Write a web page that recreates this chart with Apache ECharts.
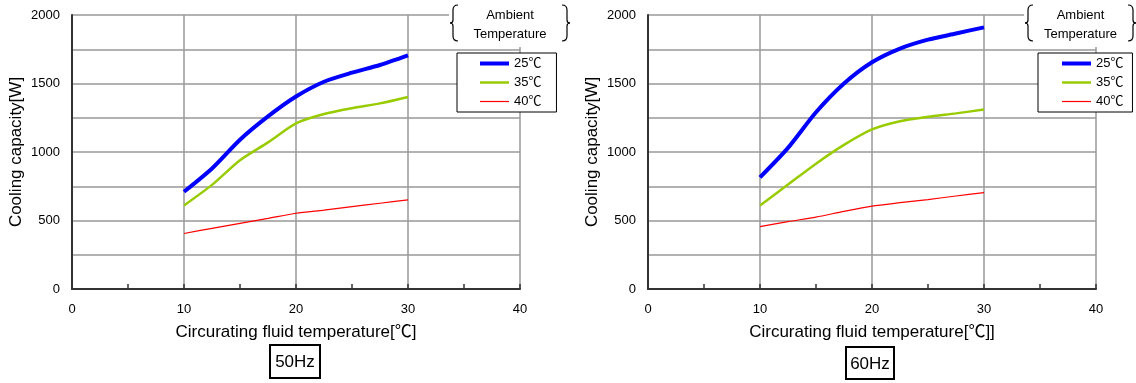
<!DOCTYPE html>
<html>
<head>
<meta charset="utf-8">
<script src="https://cdn.jsdelivr.net/npm/echarts@6/dist/echarts.min.js"></script>
<style>html,body{margin:0;padding:0;background:#fff}#c{width:1136px;height:383px}</style>
</head>
<body>
<div id="c"></div>
<script>
// ---- data ----
const temps = [10, 12.5, 15, 17.5, 20, 22.5, 25, 27.5, 30];
const seriesNames = ['25℃', '35℃', '40℃'];
const cap50_25 = [710, 880, 1090, 1260, 1405, 1513, 1579, 1635, 1705];
const cap50_35 = [610, 760, 940, 1070, 1209, 1277, 1320, 1355, 1402];
const cap50_40 = [405, 443, 479, 515, 553, 576, 601, 626, 650];
const cap60_25 = [815, 1030, 1290, 1500, 1655, 1755, 1820, 1865, 1910];
const cap60_35 = [610, 762, 915, 1052, 1165, 1225, 1257, 1282, 1310];
const cap60_40 = [455, 492, 525, 567, 605, 630, 653, 679, 703];
const panelTitles = ['50Hz', '60Hz'];
const xNames = ['Circurating fluid temperature[℃]', 'Circurating fluid temperature[℃]]'];
const yName = 'Cooling capacity[W]';
const legendTitle = 'Ambient\nTemperature';

const FONT = '"Liberation Sans", Arial, "Noto Sans CJK JP", sans-serif';
const colors = ['#0000ff', '#99cc00', '#ff0000'];
const widths = [4, 2.5, 1.2];

const pair = arr => arr.map((v, i) => [temps[i], v]);

const grids = [
  {left: 72, top: 15, width: 448, height: 274},
  {left: 648, top: 15, width: 448, height: 274}
];

function xAxisFor(i) {
  return {
    type: 'value', gridIndex: i, min: 0, max: 40, interval: 10,
    name: xNames[i], nameLocation: 'middle', nameGap: 35,
    nameTextStyle: {fontFamily: FONT, fontSize: 17, color: '#000'},
    axisLine: {show: true, lineStyle: {color: '#333', width: 2}},
    axisTick: {show: true, inside: true, length: 5, lineStyle: {color: '#333', width: 1.5}},
    minorTick: {show: true, splitNumber: 2, length: 5, lineStyle: {color: '#333', width: 1.5}},
    axisLabel: {fontFamily: FONT, fontSize: 13, color: '#000', margin: 14},
    splitLine: {show: true, lineStyle: {color: '#999', width: 1.5}}
  };
}
function yAxisFor(i) {
  return {
    type: 'value', gridIndex: i, min: 0, max: 2000, interval: 250,
    name: yName, nameLocation: 'middle', nameGap: 47,
    nameTextStyle: {fontFamily: FONT, fontSize: 17, color: '#000'},
    axisLine: {show: true, lineStyle: {color: '#333', width: 2}},
    axisTick: {show: false},
    axisLabel: {fontFamily: FONT, fontSize: 13, color: '#000', margin: 12,
      formatter: v => (v % 500 === 0 ? String(v) : '')},
    splitLine: {show: true, lineStyle: {color: '#999', width: 1.5}}
  };
}

const dataSets = [[cap50_25, cap50_35, cap50_40], [cap60_25, cap60_35, cap60_40]];
const series = [];
dataSets.forEach((set, g) => {
  set.forEach((arr, k) => {
    series.push({
      type: 'line', name: seriesNames[k], xAxisIndex: g, yAxisIndex: g,
      data: pair(arr), symbol: 'none', smooth: 0.25, z: 5 - k,
      lineStyle: {color: colors[k], width: widths[k]}, itemStyle: {color: colors[k]}
    });
  });
});

function legendFor(i, left, pad) {
  return {
    orient: 'vertical', left: left, top: 53,
    data: seriesNames.map((n, k) => ({name: n,
      lineStyle: {width: widths[k], color: colors[k]},
      itemStyle: {opacity: 0}})),
    itemWidth: 29, itemHeight: 14, itemGap: 6,
    backgroundColor: '#fff', borderColor: '#000', borderWidth: 1,
    padding: pad,
    textStyle: {fontFamily: FONT, fontSize: 13, color: '#000'},
    selectedMode: false
  };
}

function bracketGroup(x1, x2) {
  const cx = (x1 + x2) / 2;
  const st = {fill: null, stroke: '#000', lineWidth: 1.2};
  const side = (x, d) => [
    {type: 'bezierCurve', z: 21, shape: {x1: x + 5 * d, y1: 5, cpx1: x, cpy1: 5, x2: x, y2: 10}, style: st},
    {type: 'line', z: 21, shape: {x1: x, y1: 10, x2: x, y2: 20}, style: st},
    {type: 'bezierCurve', z: 21, shape: {x1: x, y1: 20, cpx1: x, cpy1: 23, x2: x - 3 * d, y2: 23}, style: st},
    {type: 'bezierCurve', z: 21, shape: {x1: x - 3 * d, y1: 23, cpx1: x, cpy1: 23, x2: x, y2: 26}, style: st},
    {type: 'line', z: 21, shape: {x1: x, y1: 26, x2: x, y2: 36}, style: st},
    {type: 'bezierCurve', z: 21, shape: {x1: x, y1: 36, cpx1: x, cpy1: 41, x2: x + 5 * d, y2: 41}, style: st}
  ];
  return [
    {type: 'rect', z: 20, shape: {x: x1 - 4, y: 0, width: x2 - x1 + 8, height: 47}, style: {fill: '#fff'}}
  ].concat(side(x1, 1), side(x2, -1), [
    {type: 'text', z: 21, x: cx, y: 24.5, style: {text: legendTitle, fill: '#000', font: '13px ' + FONT,
      align: 'center', verticalAlign: 'middle', lineHeight: 19}}
  ]);
}
function freqBox(x, y, w, h, t) {
  return [
    {type: 'rect', z: 20, shape: {x: x, y: y, width: w, height: h}, style: {fill: '#fff', stroke: '#000', lineWidth: 2}},
    {type: 'text', z: 21, x: x + w / 2, y: y + h / 2 + 1, style: {text: t, fill: '#000', font: '17px ' + FONT,
      align: 'center', verticalAlign: 'middle'}}
  ];
}

const chart = echarts.init(document.getElementById('c'), null, {renderer: 'canvas'});
chart.setOption({
  animation: false,
  backgroundColor: '#fff',
  grid: grids,
  xAxis: [xAxisFor(0), xAxisFor(1)],
  yAxis: [yAxisFor(0), yAxisFor(1)],
  legend: [legendFor(0, 457, [4, 15, 4, 21]), legendFor(1, 1038, [4, 9, 4, 22])],
  series: series,
  graphic: [].concat(
    bracketGroup(453, 567),
    bracketGroup(1028, 1133),
    freqBox(270, 345, 50, 33, panelTitles[0]),
    freqBox(846, 347, 48, 32, panelTitles[1])
  )
});
</script>
</body>
</html>
